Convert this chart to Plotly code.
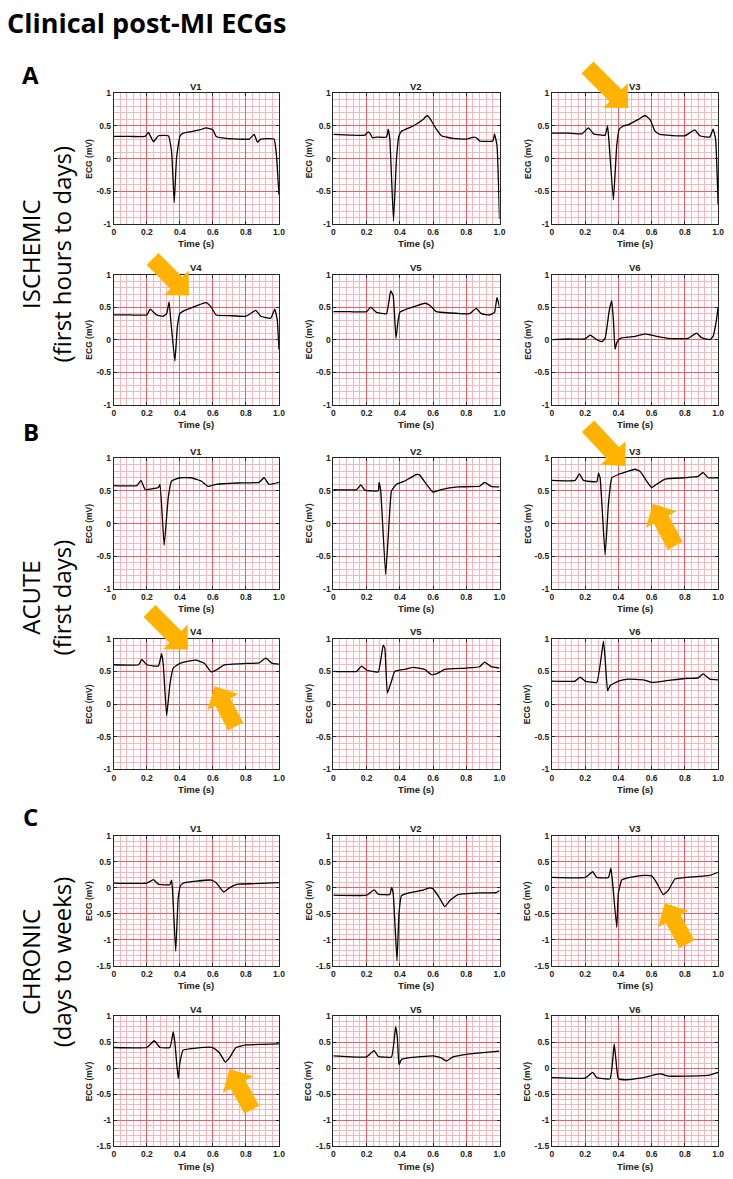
import plotly.graph_objects as go

W, H = 733, 1179

# ---------------- data ----------------
LEADS = ["V1", "V2", "V3", "V4", "V5", "V6"]
X_TICKS = [0, 0.2, 0.4, 0.6, 0.8, 1.0]
X_TICK_TEXT = ["0", "0.2", "0.4", "0.6", "0.8", "1.0"]
Y_TICKS_AB = [-1, -0.5, 0, 0.5, 1]
Y_TICK_TEXT_AB = ["-1", "-0.5", "0", "0.5", "1"]
Y_TICKS_C = [-1.5, -1, -0.5, 0, 0.5, 1]
Y_TICK_TEXT_C = ["-1.5", "-1", "-0.5", "0", "0.5", "1"]

# ISCHEMIC (A)
isch_v1_t = [0, 0.1, 0.19, 0.21, 0.24, 0.27, 0.33, 0.35, 0.366, 0.38, 0.40, 0.42, 0.52, 0.56, 0.60, 0.62, 0.68, 0.82, 0.85, 0.87, 0.89, 0.97, 0.985, 1.0]
isch_v1_v = [0.34, 0.34, 0.34, 0.40, 0.26, 0.35, 0.35, 0.11, -0.67, 0.01, 0.34, 0.39, 0.44, 0.47, 0.44, 0.34, 0.31, 0.30, 0.37, 0.25, 0.30, 0.30, 0.05, -0.55]
isch_v2_t = [0, 0.1, 0.19, 0.21, 0.22, 0.235, 0.26, 0.32, 0.33, 0.34, 0.362, 0.38, 0.395, 0.41, 0.48, 0.54, 0.565, 0.58, 0.62, 0.65, 0.72, 0.80, 0.85, 0.87, 0.88, 0.96, 0.97, 0.985, 1.0]
isch_v2_v = [0.37, 0.36, 0.36, 0.41, 0.39, 0.32, 0.33, 0.33, 0.45, 0.30, -0.95, 0.0, 0.35, 0.42, 0.50, 0.60, 0.66, 0.62, 0.45, 0.35, 0.31, 0.30, 0.33, 0.30, 0.27, 0.27, 0.38, 0.20, -0.92]
isch_v3_t = [0, 0.1, 0.18, 0.22, 0.25, 0.32, 0.335, 0.345, 0.37, 0.39, 0.405, 0.43, 0.46, 0.52, 0.56, 0.59, 0.62, 0.65, 0.80, 0.86, 0.89, 0.95, 0.97, 0.985, 1.0]
isch_v3_v = [0.39, 0.39, 0.38, 0.47, 0.38, 0.36, 0.50, 0.20, -0.63, 0.20, 0.45, 0.50, 0.52, 0.60, 0.66, 0.60, 0.42, 0.37, 0.35, 0.44, 0.35, 0.33, 0.45, 0.30, -0.70]
isch_v4_t = [0, 0.1, 0.2, 0.22, 0.26, 0.30, 0.32, 0.335, 0.345, 0.37, 0.385, 0.40, 0.43, 0.48, 0.54, 0.56, 0.59, 0.62, 0.70, 0.80, 0.86, 0.89, 0.95, 0.975, 0.99, 1.0]
isch_v4_v = [0.38, 0.38, 0.38, 0.47, 0.38, 0.36, 0.40, 0.58, 0.30, -0.33, 0.20, 0.40, 0.45, 0.50, 0.56, 0.57, 0.50, 0.38, 0.37, 0.36, 0.45, 0.36, 0.33, 0.47, 0.30, -0.15]
isch_v5_t = [0, 0.1, 0.2, 0.225, 0.26, 0.32, 0.345, 0.36, 0.377, 0.39, 0.40, 0.44, 0.50, 0.55, 0.58, 0.62, 0.70, 0.82, 0.86, 0.89, 0.94, 0.97, 0.985, 1.0]
isch_v5_v = [0.43, 0.43, 0.43, 0.50, 0.42, 0.40, 0.75, 0.68, 0.02, 0.30, 0.42, 0.47, 0.52, 0.56, 0.53, 0.43, 0.41, 0.40, 0.48, 0.40, 0.38, 0.42, 0.65, 0.50]
isch_v6_t = [0, 0.1, 0.2, 0.23, 0.27, 0.30, 0.32, 0.345, 0.36, 0.37, 0.38, 0.39, 0.41, 0.50, 0.56, 0.63, 0.70, 0.82, 0.87, 0.90, 0.95, 0.97, 0.99, 1.0]
isch_v6_v = [0.0, 0.01, 0.01, 0.07, 0.0, -0.03, 0.02, 0.45, 0.60, 0.30, -0.15, -0.05, 0.02, 0.05, 0.09, 0.05, 0.02, 0.02, 0.10, 0.03, 0.0, 0.05, 0.30, 0.50]

# ACUTE (B)
acute_v1_t = [0, 0.14, 0.165, 0.19, 0.27, 0.28, 0.305, 0.33, 0.35, 0.40, 0.47, 0.53, 0.57, 0.62, 0.75, 0.88, 0.91, 0.94, 1.0]
acute_v1_v = [0.58, 0.58, 0.66, 0.52, 0.55, 0.60, -0.33, 0.40, 0.65, 0.70, 0.70, 0.65, 0.57, 0.60, 0.62, 0.63, 0.70, 0.60, 0.63]
acute_v2_t = [0, 0.14, 0.165, 0.19, 0.27, 0.275, 0.285, 0.315, 0.335, 0.35, 0.38, 0.43, 0.50, 0.52, 0.56, 0.60, 0.65, 0.75, 0.88, 0.91, 0.95, 1.0]
acute_v2_v = [0.52, 0.52, 0.59, 0.51, 0.50, 0.63, 0.50, -0.78, 0.0, 0.50, 0.60, 0.65, 0.75, 0.74, 0.60, 0.48, 0.52, 0.56, 0.57, 0.63, 0.57, 0.56]
acute_v3_t = [0, 0.14, 0.165, 0.19, 0.27, 0.28, 0.29, 0.32, 0.34, 0.36, 0.40, 0.46, 0.50, 0.53, 0.57, 0.60, 0.63, 0.68, 0.80, 0.88, 0.91, 0.94, 1.0]
acute_v3_v = [0.66, 0.66, 0.76, 0.66, 0.64, 0.77, 0.70, -0.48, 0.30, 0.70, 0.75, 0.80, 0.83, 0.80, 0.65, 0.55, 0.60, 0.68, 0.70, 0.72, 0.78, 0.70, 0.70]
acute_v4_t = [0, 0.15, 0.17, 0.20, 0.27, 0.29, 0.30, 0.32, 0.34, 0.36, 0.40, 0.46, 0.50, 0.55, 0.59, 0.62, 0.67, 0.80, 0.88, 0.92, 0.96, 1.0]
acute_v4_v = [0.60, 0.60, 0.68, 0.60, 0.58, 0.77, 0.60, -0.18, 0.30, 0.55, 0.62, 0.66, 0.67, 0.62, 0.49, 0.52, 0.60, 0.62, 0.63, 0.70, 0.62, 0.61]
acute_v5_t = [0, 0.14, 0.17, 0.20, 0.27, 0.30, 0.31, 0.325, 0.35, 0.37, 0.43, 0.48, 0.55, 0.59, 0.62, 0.67, 0.80, 0.88, 0.91, 0.95, 1.0]
acute_v5_v = [0.50, 0.50, 0.58, 0.52, 0.49, 0.90, 0.85, 0.17, 0.35, 0.50, 0.53, 0.56, 0.53, 0.45, 0.46, 0.53, 0.55, 0.57, 0.64, 0.57, 0.55]
acute_v6_t = [0, 0.14, 0.17, 0.20, 0.27, 0.31, 0.32, 0.335, 0.35, 0.40, 0.46, 0.55, 0.60, 0.70, 0.80, 0.88, 0.91, 0.95, 1.0]
acute_v6_v = [0.35, 0.35, 0.41, 0.35, 0.33, 0.96, 0.70, 0.20, 0.28, 0.35, 0.38, 0.37, 0.33, 0.36, 0.39, 0.40, 0.46, 0.38, 0.37]

# CHRONIC (C)
chron_v1_t = [0, 0.2, 0.24, 0.27, 0.34, 0.35, 0.355, 0.375, 0.39, 0.405, 0.43, 0.50, 0.59, 0.62, 0.665, 0.70, 0.75, 0.85, 1.0]
chron_v1_v = [0.09, 0.09, 0.16, 0.07, 0.06, 0.15, 0.0, -1.22, -0.20, 0.05, 0.10, 0.13, 0.15, 0.10, -0.08, 0.0, 0.07, 0.08, 0.10]
chron_v2_t = [0, 0.2, 0.245, 0.27, 0.34, 0.35, 0.36, 0.383, 0.395, 0.41, 0.45, 0.53, 0.58, 0.60, 0.64, 0.67, 0.70, 0.75, 0.85, 0.98, 1.0]
chron_v2_v = [-0.14, -0.14, -0.04, -0.12, -0.13, 0.01, -0.10, -1.40, -0.50, -0.15, -0.10, -0.05, 0.0, -0.02, -0.20, -0.36, -0.25, -0.13, -0.10, -0.09, -0.05]
chron_v3_t = [0, 0.2, 0.245, 0.27, 0.34, 0.355, 0.365, 0.39, 0.40, 0.42, 0.47, 0.55, 0.60, 0.63, 0.67, 0.70, 0.74, 0.80, 0.95, 1.0]
chron_v3_v = [0.20, 0.20, 0.31, 0.20, 0.20, 0.38, 0.10, -0.76, -0.10, 0.15, 0.20, 0.24, 0.23, 0.10, -0.13, -0.05, 0.17, 0.20, 0.24, 0.30]
chron_v4_t = [0, 0.2, 0.245, 0.28, 0.34, 0.36, 0.37, 0.39, 0.40, 0.42, 0.50, 0.60, 0.64, 0.675, 0.70, 0.74, 0.80, 0.90, 1.0]
chron_v4_v = [0.40, 0.40, 0.53, 0.40, 0.40, 0.70, 0.50, -0.20, 0.10, 0.35, 0.39, 0.40, 0.30, 0.12, 0.20, 0.40, 0.45, 0.46, 0.47]
chron_v5_t = [0, 0.2, 0.245, 0.27, 0.35, 0.375, 0.385, 0.395, 0.41, 0.45, 0.60, 0.65, 0.68, 0.72, 0.80, 0.90, 1.0]
chron_v5_v = [0.24, 0.22, 0.34, 0.23, 0.22, 0.80, 0.60, 0.07, 0.17, 0.20, 0.24, 0.20, 0.14, 0.22, 0.27, 0.30, 0.33]
chron_v6_t = [0, 0.2, 0.245, 0.27, 0.35, 0.375, 0.39, 0.40, 0.45, 0.55, 0.62, 0.66, 0.70, 0.80, 0.95, 1.0]
chron_v6_v = [-0.18, -0.19, -0.08, -0.18, -0.20, 0.47, 0.0, -0.20, -0.22, -0.18, -0.12, -0.11, -0.15, -0.15, -0.13, -0.08]

SECTIONS = [
    ("ISCHEMIC", "(first hours to days)", "A",
     [(isch_v1_t, isch_v1_v), (isch_v2_t, isch_v2_v), (isch_v3_t, isch_v3_v),
      (isch_v4_t, isch_v4_v), (isch_v5_t, isch_v5_v), (isch_v6_t, isch_v6_v)]),
    ("ACUTE", "(first days)", "B",
     [(acute_v1_t, acute_v1_v), (acute_v2_t, acute_v2_v), (acute_v3_t, acute_v3_v),
      (acute_v4_t, acute_v4_v), (acute_v5_t, acute_v5_v), (acute_v6_t, acute_v6_v)]),
    ("CHRONIC", "(days to weeks)", "C",
     [(chron_v1_t, chron_v1_v), (chron_v2_t, chron_v2_v), (chron_v3_t, chron_v3_v),
      (chron_v4_t, chron_v4_v), (chron_v5_t, chron_v5_v), (chron_v6_t, chron_v6_v)]),
]

# ---------------- layout geometry (pixels) ----------------
COLS_PX = [(113, 280), (335, 503), (556, 724)]
ROWS_PX = [(89, 221), (272, 403), (457, 589), (639, 771), (838, 969), (1020, 1151)]
SECTION_LABEL_Y = [252, 598, 965]
LETTER_POS = [(29, 70), (29, 430), (29, 818)]

MAJOR = "#EE5C68"
MINOR = "#F7B5BE"
FRAME = "#262626"
ARROW = "#FFB300"
FONT = "Liberation Sans"


def px(x):
    return x / W


def py(y):
    return 1 - y / H


fig = go.Figure()
layout = {}
annotations = []

n = 0
for s_idx, (name, sub, letter, traces) in enumerate(SECTIONS):
    chronic = (s_idx == 2)
    for k, (t, v) in enumerate(traces):
        n += 1
        r = s_idx * 2 + k // 3
        c = k % 3
        x0, x1 = COLS_PX[c]
        y0, y1 = ROWS_PX[r]
        xa = "x" if n == 1 else f"x{n}"
        ya = "y" if n == 1 else f"y{n}"
        fig.add_trace(go.Scatter(
            x=t, y=v, xaxis=xa, yaxis=ya, mode="lines",
            line=dict(color="black", width=1.3, shape="spline", smoothing=0.35),
            showlegend=False, hoverinfo="skip"))
        suffix = "" if n == 1 else str(n)
        layout["xaxis" + suffix] = dict(
            domain=[px(x0), px(x1)], anchor=ya, range=[0, 1],
            tickmode="array", tickvals=X_TICKS, ticktext=X_TICK_TEXT,
            showgrid=True, gridcolor=MAJOR, gridwidth=1,
            minor=dict(tick0=0, dtick=0.04, showgrid=True, gridcolor=MINOR, gridwidth=1),
            showline=True, linecolor=FRAME, linewidth=1, mirror="ticks",
            ticks="inside", ticklen=3, tickcolor=FRAME, zeroline=False,
            tickfont=dict(family=FONT, size=8.5, color="#222", weight="bold"),
            fixedrange=True)
        yt, ytt = (Y_TICKS_C, Y_TICK_TEXT_C) if chronic else (Y_TICKS_AB, Y_TICK_TEXT_AB)
        layout["yaxis" + suffix] = dict(
            domain=[py(y1), py(y0)], anchor=xa,
            range=[-1.5, 1] if chronic else [-1, 1],
            tickmode="array", tickvals=yt, ticktext=ytt,
            showgrid=True, gridcolor=MAJOR, gridwidth=1,
            minor=dict(tick0=0, dtick=0.1, showgrid=True, gridcolor=MINOR, gridwidth=1),
            showline=True, linecolor=FRAME, linewidth=1, mirror="ticks",
            ticks="inside", ticklen=3, tickcolor=FRAME, zeroline=False,
            tickfont=dict(family=FONT, size=8.5, color="#222", weight="bold"),
            fixedrange=True)
        xc = (x0 + x1) / 2
        annotations.append(dict(text=f"<b>{LEADS[k]}</b>", x=px(xc), y=py(y0 - 7),
                                xref="paper", yref="paper", showarrow=False,
                                font=dict(family=FONT, size=9.5, color="#222"),
                                xanchor="center", yanchor="middle"))
        annotations.append(dict(text="<b>Time (s)</b>", x=px(xc), y=py(y1 + 20),
                                xref="paper", yref="paper", showarrow=False,
                                font=dict(family=FONT, size=9.5, color="#222"),
                                xanchor="center", yanchor="middle"))
        annotations.append(dict(text="<b>ECG (mV)</b>", x=px(x0 - 25), y=py((y0 + y1) / 2),
                                xref="paper", yref="paper", showarrow=False, textangle=-90,
                                font=dict(family=FONT, size=8.5, color="#222"),
                                xanchor="center", yanchor="middle"))
    annotations.append(dict(text=f"{name}<br>{sub}", x=px(44), y=py(SECTION_LABEL_Y[s_idx]),
                            xref="paper", yref="paper", showarrow=False, textangle=-90,
                            font=dict(family="Open Sans", size=24, color="black"),
                            xanchor="center", yanchor="middle"))
    lx, ly = LETTER_POS[s_idx]
    annotations.append(dict(text=f"<b>{letter}</b>", x=px(lx), y=py(ly),
                            xref="paper", yref="paper", showarrow=False,
                            font=dict(family="Open Sans", size=24, color="black"),
                            xanchor="center", yanchor="middle"))

annotations.append(dict(text="<b>Clinical post-MI ECGs</b>", x=px(3), y=py(18),
                        xref="paper", yref="paper", showarrow=False,
                        font=dict(family="Open Sans", size=27, color="black"),
                        xanchor="left", yanchor="middle"))

# ---------------- block arrows (tip px, direction, length) ----------------
ARROWS = [
    ((633, 104), (0.707, 0.707), 58),
    ((189, 293), (0.707, 0.707), 52),
    ((630, 465), (0.68, 0.73), 55),
    ((658, 503), (-0.47, -0.88), 48),
    ((188, 650), (0.707, 0.707), 55),
    ((215, 687), (-0.46, -0.89), 46),
    ((670, 906), (-0.48, -0.88), 47),
    ((230, 1073), (-0.48, -0.88), 47),
]


def arrow_path(tip, u, length, shaft_w=17, head_w=35, head_len=18):
    ux, uy = u
    norm = (ux * ux + uy * uy) ** 0.5
    ux, uy = ux / norm, uy / norm
    nx, ny = -uy, ux
    tx, ty = tip
    neck = (tx - ux * head_len, ty - uy * head_len)
    tail = (tx - ux * length, ty - uy * length)
    pts = [
        (tail[0] + nx * shaft_w / 2, tail[1] + ny * shaft_w / 2),
        (neck[0] + nx * shaft_w / 2, neck[1] + ny * shaft_w / 2),
        (neck[0] + nx * head_w / 2, neck[1] + ny * head_w / 2),
        (tx, ty),
        (neck[0] - nx * head_w / 2, neck[1] - ny * head_w / 2),
        (neck[0] - nx * shaft_w / 2, neck[1] - ny * shaft_w / 2),
        (tail[0] - nx * shaft_w / 2, tail[1] - ny * shaft_w / 2),
    ]
    return "M " + " L ".join(f"{px(a):.5f},{py(b):.5f}" for a, b in pts) + " Z"


shapes = [dict(type="path", path=arrow_path(*a), xref="paper", yref="paper",
               fillcolor=ARROW, line=dict(width=0), layer="above") for a in ARROWS]

fig.update_layout(**layout)
fig.update_layout(width=W, height=H, margin=dict(l=0, r=0, t=0, b=0),
                  paper_bgcolor="white", plot_bgcolor="white",
                  annotations=annotations, shapes=shapes, showlegend=False)
fig.write_html("out.html",
               config={"displayModeBar": False, "staticPlot": True},
               post_script="document.body.style.margin='0';document.body.style.padding='0';"
                           "document.body.style.overflow='hidden';")
